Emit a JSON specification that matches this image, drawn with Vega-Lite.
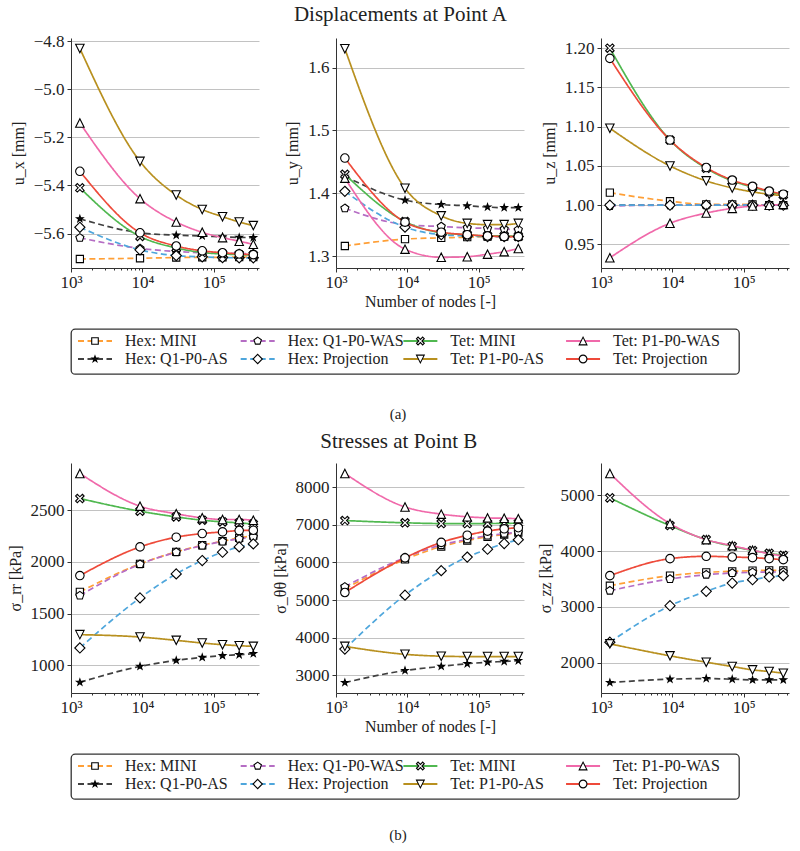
{
  "$schema": "https://vega.github.io/schema/vega-lite/v6.json",
  "background": "white",
  "padding": {"left": 7, "top": 4, "right": 5, "bottom": 5},
  "config": {
    "font": "'Liberation Serif', 'Times New Roman', 'DejaVu Serif', serif",
    "view": {"stroke": null},
    "axis": {"labelFont": "'Times New Roman', 'Liberation Serif', 'DejaVu Serif', serif", "titleFont": "'Liberation Serif', 'Times New Roman', 'DejaVu Serif', serif", "labelFontSize": 17, "titleFontSize": 16, "titleFontWeight": "normal", "labelColor": "#222", "titleColor": "#222", "domainColor": "#333", "tickColor": "#333", "gridColor": "#bbbbbb", "gridWidth": 0.9, "tickSize": 4},
    "title": {"font": "'Liberation Serif', 'Times New Roman', 'DejaVu Serif', serif", "fontWeight": "normal", "color": "#222"},
    "text": {"font": "'Liberation Serif', 'Times New Roman', 'DejaVu Serif', serif"}
  },
  "datasets": {
    "disp": [
      {"s":"Hex: MINI","n":1331,"ux":-5.706,"uy":1.316,"uz":1.016},
      {"s":"Hex: MINI","n":9261,"ux":-5.703,"uy":1.327,"uz":1.005},
      {"s":"Hex: MINI","n":29791,"ux":-5.700,"uy":1.329,"uz":1.001},
      {"s":"Hex: MINI","n":68921,"ux":-5.699,"uy":1.330,"uz":1.001},
      {"s":"Hex: MINI","n":132651,"ux":-5.699,"uy":1.331,"uz":1.001},
      {"s":"Hex: MINI","n":226981,"ux":-5.698,"uy":1.331,"uz":1.000},
      {"s":"Hex: MINI","n":357911,"ux":-5.698,"uy":1.331,"uz":1.000},
      {"s":"Hex: Q1-P0-AS","n":1331,"ux":-5.539,"uy":1.427,"uz":1.000},
      {"s":"Hex: Q1-P0-AS","n":9261,"ux":-5.597,"uy":1.389,"uz":1.000},
      {"s":"Hex: Q1-P0-AS","n":29791,"ux":-5.607,"uy":1.382,"uz":1.000},
      {"s":"Hex: Q1-P0-AS","n":68921,"ux":-5.610,"uy":1.380,"uz":1.000},
      {"s":"Hex: Q1-P0-AS","n":132651,"ux":-5.614,"uy":1.378,"uz":1.000},
      {"s":"Hex: Q1-P0-AS","n":226981,"ux":-5.616,"uy":1.377,"uz":1.000},
      {"s":"Hex: Q1-P0-AS","n":357911,"ux":-5.617,"uy":1.377,"uz":1.000},
      {"s":"Hex: Q1-P0-WAS","n":1331,"ux":-5.618,"uy":1.376,"uz":0.999},
      {"s":"Hex: Q1-P0-WAS","n":9261,"ux":-5.662,"uy":1.350,"uz":1.000},
      {"s":"Hex: Q1-P0-WAS","n":29791,"ux":-5.675,"uy":1.347,"uz":1.000},
      {"s":"Hex: Q1-P0-WAS","n":68921,"ux":-5.680,"uy":1.345,"uz":1.000},
      {"s":"Hex: Q1-P0-WAS","n":132651,"ux":-5.681,"uy":1.344,"uz":1.000},
      {"s":"Hex: Q1-P0-WAS","n":226981,"ux":-5.683,"uy":1.343,"uz":1.000},
      {"s":"Hex: Q1-P0-WAS","n":357911,"ux":-5.684,"uy":1.342,"uz":1.000},
      {"s":"Hex: Projection","n":1331,"ux":-5.574,"uy":1.403,"uz":1.000},
      {"s":"Hex: Projection","n":9261,"ux":-5.668,"uy":1.346,"uz":1.000},
      {"s":"Hex: Projection","n":29791,"ux":-5.692,"uy":1.334,"uz":1.000},
      {"s":"Hex: Projection","n":68921,"ux":-5.697,"uy":1.332,"uz":1.000},
      {"s":"Hex: Projection","n":132651,"ux":-5.700,"uy":1.331,"uz":1.000},
      {"s":"Hex: Projection","n":226981,"ux":-5.701,"uy":1.331,"uz":1.000},
      {"s":"Hex: Projection","n":357911,"ux":-5.701,"uy":1.331,"uz":1.000},
      {"s":"Tet: MINI","n":1331,"ux":-5.410,"uy":1.430,"uz":1.200},
      {"s":"Tet: MINI","n":9261,"ux":-5.612,"uy":1.355,"uz":1.083},
      {"s":"Tet: MINI","n":29791,"ux":-5.660,"uy":1.337,"uz":1.047},
      {"s":"Tet: MINI","n":68921,"ux":-5.679,"uy":1.334,"uz":1.031},
      {"s":"Tet: MINI","n":132651,"ux":-5.685,"uy":1.332,"uz":1.023},
      {"s":"Tet: MINI","n":226981,"ux":-5.688,"uy":1.332,"uz":1.017},
      {"s":"Tet: MINI","n":357911,"ux":-5.690,"uy":1.331,"uz":1.013},
      {"s":"Tet: P1-P0-AS","n":1331,"ux":-4.830,"uy":1.630,"uz":1.098},
      {"s":"Tet: P1-P0-AS","n":9261,"ux":-5.300,"uy":1.408,"uz":1.050},
      {"s":"Tet: P1-P0-AS","n":29791,"ux":-5.440,"uy":1.364,"uz":1.031},
      {"s":"Tet: P1-P0-AS","n":68921,"ux":-5.500,"uy":1.352,"uz":1.022},
      {"s":"Tet: P1-P0-AS","n":132651,"ux":-5.530,"uy":1.350,"uz":1.017},
      {"s":"Tet: P1-P0-AS","n":226981,"ux":-5.552,"uy":1.350,"uz":1.014},
      {"s":"Tet: P1-P0-AS","n":357911,"ux":-5.567,"uy":1.352,"uz":1.012},
      {"s":"Tet: P1-P0-WAS","n":1331,"ux":-5.140,"uy":1.424,"uz":0.933},
      {"s":"Tet: P1-P0-WAS","n":9261,"ux":-5.455,"uy":1.311,"uz":0.977},
      {"s":"Tet: P1-P0-WAS","n":29791,"ux":-5.552,"uy":1.298,"uz":0.990},
      {"s":"Tet: P1-P0-WAS","n":68921,"ux":-5.595,"uy":1.299,"uz":0.996},
      {"s":"Tet: P1-P0-WAS","n":132651,"ux":-5.617,"uy":1.303,"uz":0.999},
      {"s":"Tet: P1-P0-WAS","n":226981,"ux":-5.632,"uy":1.307,"uz":1.000},
      {"s":"Tet: P1-P0-WAS","n":357911,"ux":-5.645,"uy":1.312,"uz":1.001},
      {"s":"Tet: Projection","n":1331,"ux":-5.341,"uy":1.456,"uz":1.187},
      {"s":"Tet: Projection","n":9261,"ux":-5.597,"uy":1.354,"uz":1.083},
      {"s":"Tet: Projection","n":29791,"ux":-5.652,"uy":1.338,"uz":1.048},
      {"s":"Tet: Projection","n":68921,"ux":-5.672,"uy":1.334,"uz":1.032},
      {"s":"Tet: Projection","n":132651,"ux":-5.680,"uy":1.332,"uz":1.024},
      {"s":"Tet: Projection","n":226981,"ux":-5.685,"uy":1.331,"uz":1.018},
      {"s":"Tet: Projection","n":357911,"ux":-5.688,"uy":1.331,"uz":1.014}
    ],
    "stress": [
      {"s":"Hex: MINI","n":1331,"rr":1710,"tt":5300,"zz":3380},
      {"s":"Hex: MINI","n":9261,"rr":1981,"tt":6080,"zz":3560},
      {"s":"Hex: MINI","n":29791,"rr":2097,"tt":6420,"zz":3619},
      {"s":"Hex: MINI","n":68921,"rr":2161,"tt":6580,"zz":3637},
      {"s":"Hex: MINI","n":132651,"rr":2200,"tt":6680,"zz":3649},
      {"s":"Hex: MINI","n":226981,"rr":2232,"tt":6740,"zz":3655},
      {"s":"Hex: MINI","n":357911,"rr":2255,"tt":6790,"zz":3655},
      {"s":"Hex: Q1-P0-AS","n":1331,"rr":836,"tt":2810,"zz":1647},
      {"s":"Hex: Q1-P0-AS","n":9261,"rr":990,"tt":3130,"zz":1707},
      {"s":"Hex: Q1-P0-AS","n":29791,"rr":1048,"tt":3240,"zz":1719},
      {"s":"Hex: Q1-P0-AS","n":68921,"rr":1077,"tt":3310,"zz":1707},
      {"s":"Hex: Q1-P0-AS","n":132651,"rr":1094,"tt":3350,"zz":1695},
      {"s":"Hex: Q1-P0-AS","n":226981,"rr":1103,"tt":3370,"zz":1695},
      {"s":"Hex: Q1-P0-AS","n":357911,"rr":1113,"tt":3390,"zz":1695},
      {"s":"Hex: Q1-P0-WAS","n":1331,"rr":1674,"tt":5350,"zz":3290},
      {"s":"Hex: Q1-P0-WAS","n":9261,"rr":1978,"tt":6130,"zz":3500},
      {"s":"Hex: Q1-P0-WAS","n":29791,"rr":2094,"tt":6460,"zz":3577},
      {"s":"Hex: Q1-P0-WAS","n":68921,"rr":2158,"tt":6610,"zz":3607},
      {"s":"Hex: Q1-P0-WAS","n":132651,"rr":2197,"tt":6710,"zz":3619},
      {"s":"Hex: Q1-P0-WAS","n":226981,"rr":2223,"tt":6760,"zz":3625},
      {"s":"Hex: Q1-P0-WAS","n":357911,"rr":2242,"tt":6800,"zz":3625},
      {"s":"Hex: Projection","n":1331,"rr":1168,"tt":3700,"zz":2370},
      {"s":"Hex: Projection","n":9261,"rr":1652,"tt":5130,"zz":3022},
      {"s":"Hex: Projection","n":29791,"rr":1884,"tt":5780,"zz":3279},
      {"s":"Hex: Projection","n":68921,"rr":2013,"tt":6140,"zz":3428},
      {"s":"Hex: Projection","n":132651,"rr":2094,"tt":6350,"zz":3488},
      {"s":"Hex: Projection","n":226981,"rr":2145,"tt":6500,"zz":3536},
      {"s":"Hex: Projection","n":357911,"rr":2174,"tt":6600,"zz":3560},
      {"s":"Tet: MINI","n":1331,"rr":2613,"tt":7110,"zz":4952},
      {"s":"Tet: MINI","n":9261,"rr":2490,"tt":7050,"zz":4456},
      {"s":"Tet: MINI","n":29791,"rr":2435,"tt":7030,"zz":4205},
      {"s":"Tet: MINI","n":68921,"rr":2403,"tt":7030,"zz":4085},
      {"s":"Tet: MINI","n":132651,"rr":2387,"tt":7030,"zz":4010},
      {"s":"Tet: MINI","n":226981,"rr":2377,"tt":7035,"zz":3960},
      {"s":"Tet: MINI","n":357911,"rr":2366,"tt":7040,"zz":3925},
      {"s":"Tet: P1-P0-AS","n":1331,"rr":1297,"tt":3770,"zz":2340},
      {"s":"Tet: P1-P0-AS","n":9261,"rr":1274,"tt":3560,"zz":2125},
      {"s":"Tet: P1-P0-AS","n":29791,"rr":1242,"tt":3510,"zz":2011},
      {"s":"Tet: P1-P0-AS","n":68921,"rr":1216,"tt":3500,"zz":1934},
      {"s":"Tet: P1-P0-AS","n":132651,"rr":1200,"tt":3500,"zz":1874},
      {"s":"Tet: P1-P0-AS","n":226981,"rr":1190,"tt":3500,"zz":1844},
      {"s":"Tet: P1-P0-AS","n":357911,"rr":1184,"tt":3500,"zz":1814},
      {"s":"Tet: P1-P0-WAS","n":1331,"rr":2855,"tt":8360,"zz":5389},
      {"s":"Tet: P1-P0-WAS","n":9261,"rr":2539,"tt":7470,"zz":4492},
      {"s":"Tet: P1-P0-WAS","n":29791,"rr":2465,"tt":7280,"zz":4205},
      {"s":"Tet: P1-P0-WAS","n":68921,"rr":2426,"tt":7210,"zz":4097},
      {"s":"Tet: P1-P0-WAS","n":132651,"rr":2410,"tt":7180,"zz":4014},
      {"s":"Tet: P1-P0-WAS","n":226981,"rr":2410,"tt":7170,"zz":3954},
      {"s":"Tet: P1-P0-WAS","n":357911,"rr":2403,"tt":7160,"zz":3906},
      {"s":"Tet: Projection","n":1331,"rr":1868,"tt":5200,"zz":3560},
      {"s":"Tet: Projection","n":9261,"rr":2145,"tt":6120,"zz":3864},
      {"s":"Tet: Projection","n":29791,"rr":2239,"tt":6530,"zz":3906},
      {"s":"Tet: Projection","n":68921,"rr":2274,"tt":6720,"zz":3894},
      {"s":"Tet: Projection","n":132651,"rr":2290,"tt":6830,"zz":3882},
      {"s":"Tet: Projection","n":226981,"rr":2303,"tt":6890,"zz":3864},
      {"s":"Tet: Projection","n":357911,"rr":2306,"tt":6920,"zz":3846}
    ],
    "legend": [
      {"s":"Hex: MINI","col":0,"row":0},
      {"s":"Hex: Q1-P0-AS","col":0,"row":1},
      {"s":"Hex: Q1-P0-WAS","col":1,"row":0},
      {"s":"Hex: Projection","col":1,"row":1},
      {"s":"Tet: MINI","col":2,"row":0},
      {"s":"Tet: P1-P0-AS","col":2,"row":1},
      {"s":"Tet: P1-P0-WAS","col":3,"row":0},
      {"s":"Tet: Projection","col":3,"row":1}
    ]
  },
  "spacing": 8,
  "vconcat": [
    {
      "spacing": 19,
      "vconcat": [
        {
          "title": {"text": "Displacements at Point A", "fontSize": 21, "anchor": "middle", "frame": "bounds", "offset": 7},
          "bounds": "flush",
          "spacing": 77,
          "hconcat": [
            {
              "width": 188, "height": 230, "data": {"name": "disp"},
              "encoding": {
                "x": {"field": "n", "type": "quantitative", "scale": {"type": "log", "domain": [1000, 430000], "nice": false}, "axis": {"values": [1000,2000,3000,4000,5000,6000,7000,8000,9000,10000,20000,30000,40000,50000,60000,70000,80000,90000,100000,200000,300000,400000], "labelExpr": "datum.value==1000?'10³':datum.value==10000?'10⁴':datum.value==100000?'10⁵':''", "tickSize": {"condition": {"test": "datum.value==1000||datum.value==10000||datum.value==100000", "value": 4}, "value": 2}, "grid": false, "labelFlush": false, "labelOverlap": false, "title": null, "labelPadding": 2}},
                "y": {"field": "ux", "type": "quantitative", "scale": {"domain": [-5.7435, -4.7865], "zero": false, "nice": false}, "axis": {"values": [-5.6,-5.4,-5.2,-5.0,-4.8], "format": ".1f", "title": "u_x [mm]", "grid": true, "titlePadding": 7, "labelPadding": 3}}
              },
              "layer": [
                {"mark": {"type": "line", "interpolate": "monotone", "strokeWidth": 1.7},
                 "encoding": {
                   "color": {"field": "s", "type": "nominal", "scale": {"domain": ["Hex: MINI","Hex: Q1-P0-AS","Hex: Q1-P0-WAS","Hex: Projection","Tet: MINI","Tet: P1-P0-AS","Tet: P1-P0-WAS","Tet: Projection"], "range": ["#ff9f36","#404040","#b56dc4","#4ea6dc","#50b850","#b8901f","#f069aa","#ee4a3a"]}, "legend": null},
                   "strokeDash": {"field": "s", "type": "nominal", "scale": {"domain": ["Hex: MINI","Hex: Q1-P0-AS","Hex: Q1-P0-WAS","Hex: Projection","Tet: MINI","Tet: P1-P0-AS","Tet: P1-P0-WAS","Tet: Projection"], "range": [[6,3.5],[6,3.5],[6,3.5],[6,3.5],[1,0],[1,0],[1,0],[1,0]]}, "legend": null}
                 }},
                {"mark": {"type": "point", "filled": true, "stroke": "black", "strokeWidth": 1.1, "size": 72, "opacity": 1},
                 "encoding": {
                   "shape": {"field": "s", "type": "nominal", "scale": {"domain": ["Hex: MINI","Hex: Q1-P0-AS","Hex: Q1-P0-WAS","Hex: Projection","Tet: MINI","Tet: P1-P0-AS","Tet: P1-P0-WAS","Tet: Projection"], "range": ["M-0.85,-0.85L0.85,-0.85L0.85,0.85L-0.85,0.85Z","M0,-0.8L0.18,-0.25L0.76,-0.25L0.29,0.09L0.47,0.65L0,0.31L-0.47,0.65L-0.29,0.09L-0.76,-0.25L-0.18,-0.25Z","M0,-1L0.951,-0.309L0.588,0.809L-0.588,0.809L-0.951,-0.309Z","M0,-1.2L1.2,0L0,1.2L-1.2,0Z","M0.6,-1L1,-0.6L0.4,0L1,0.6L0.6,1L0,0.4L-0.6,1L-1,0.6L-0.4,0L-1,-0.6L-0.6,-1L0,-0.4Z","M-1,-1L1,-1L0,1Z","M0,-1L1,1L-1,1Z","circle"]}, "legend": null},
                   "fill": {"field": "s", "type": "nominal", "scale": {"domain": ["Hex: MINI","Hex: Q1-P0-AS","Hex: Q1-P0-WAS","Hex: Projection","Tet: MINI","Tet: P1-P0-AS","Tet: P1-P0-WAS","Tet: Projection"], "range": ["white","#111111","white","white","white","white","white","white"]}, "legend": null}
                 }}
              ]
            },
            {
              "width": 188, "height": 230, "data": {"name": "disp"},
              "encoding": {
                "x": {"field": "n", "type": "quantitative", "scale": {"type": "log", "domain": [1000, 430000], "nice": false}, "axis": {"values": [1000,2000,3000,4000,5000,6000,7000,8000,9000,10000,20000,30000,40000,50000,60000,70000,80000,90000,100000,200000,300000,400000], "labelExpr": "datum.value==1000?'10³':datum.value==10000?'10⁴':datum.value==100000?'10⁵':''", "tickSize": {"condition": {"test": "datum.value==1000||datum.value==10000||datum.value==100000", "value": 4}, "value": 2}, "grid": false, "labelFlush": false, "labelOverlap": false, "title": "Number of nodes [-]", "titlePadding": 3, "labelPadding": 2}},
                "y": {"field": "uy", "type": "quantitative", "scale": {"domain": [1.281, 1.647], "zero": false, "nice": false}, "axis": {"values": [1.3,1.4,1.5,1.6], "format": ".1f", "title": "u_y [mm]", "grid": true, "titlePadding": 7, "labelPadding": 3}}
              },
              "layer": [
                {"mark": {"type": "line", "interpolate": "monotone", "strokeWidth": 1.7},
                 "encoding": {
                   "color": {"field": "s", "type": "nominal", "scale": {"domain": ["Hex: MINI","Hex: Q1-P0-AS","Hex: Q1-P0-WAS","Hex: Projection","Tet: MINI","Tet: P1-P0-AS","Tet: P1-P0-WAS","Tet: Projection"], "range": ["#ff9f36","#404040","#b56dc4","#4ea6dc","#50b850","#b8901f","#f069aa","#ee4a3a"]}, "legend": null},
                   "strokeDash": {"field": "s", "type": "nominal", "scale": {"domain": ["Hex: MINI","Hex: Q1-P0-AS","Hex: Q1-P0-WAS","Hex: Projection","Tet: MINI","Tet: P1-P0-AS","Tet: P1-P0-WAS","Tet: Projection"], "range": [[6,3.5],[6,3.5],[6,3.5],[6,3.5],[1,0],[1,0],[1,0],[1,0]]}, "legend": null}
                 }},
                {"mark": {"type": "point", "filled": true, "stroke": "black", "strokeWidth": 1.1, "size": 72, "opacity": 1},
                 "encoding": {
                   "shape": {"field": "s", "type": "nominal", "scale": {"domain": ["Hex: MINI","Hex: Q1-P0-AS","Hex: Q1-P0-WAS","Hex: Projection","Tet: MINI","Tet: P1-P0-AS","Tet: P1-P0-WAS","Tet: Projection"], "range": ["M-0.85,-0.85L0.85,-0.85L0.85,0.85L-0.85,0.85Z","M0,-0.8L0.18,-0.25L0.76,-0.25L0.29,0.09L0.47,0.65L0,0.31L-0.47,0.65L-0.29,0.09L-0.76,-0.25L-0.18,-0.25Z","M0,-1L0.951,-0.309L0.588,0.809L-0.588,0.809L-0.951,-0.309Z","M0,-1.2L1.2,0L0,1.2L-1.2,0Z","M0.6,-1L1,-0.6L0.4,0L1,0.6L0.6,1L0,0.4L-0.6,1L-1,0.6L-0.4,0L-1,-0.6L-0.6,-1L0,-0.4Z","M-1,-1L1,-1L0,1Z","M0,-1L1,1L-1,1Z","circle"]}, "legend": null},
                   "fill": {"field": "s", "type": "nominal", "scale": {"domain": ["Hex: MINI","Hex: Q1-P0-AS","Hex: Q1-P0-WAS","Hex: Projection","Tet: MINI","Tet: P1-P0-AS","Tet: P1-P0-WAS","Tet: Projection"], "range": ["white","#111111","white","white","white","white","white","white"]}, "legend": null}
                 }}
              ]
            },
            {
              "width": 188, "height": 230, "data": {"name": "disp"},
              "encoding": {
                "x": {"field": "n", "type": "quantitative", "scale": {"type": "log", "domain": [1000, 430000], "nice": false}, "axis": {"values": [1000,2000,3000,4000,5000,6000,7000,8000,9000,10000,20000,30000,40000,50000,60000,70000,80000,90000,100000,200000,300000,400000], "labelExpr": "datum.value==1000?'10³':datum.value==10000?'10⁴':datum.value==100000?'10⁵':''", "tickSize": {"condition": {"test": "datum.value==1000||datum.value==10000||datum.value==100000", "value": 4}, "value": 2}, "grid": false, "labelFlush": false, "labelOverlap": false, "title": null, "labelPadding": 2}},
                "y": {"field": "uz", "type": "quantitative", "scale": {"domain": [0.92, 1.213], "zero": false, "nice": false}, "axis": {"values": [0.95,1.0,1.05,1.1,1.15,1.2], "format": ".2f", "title": "u_z [mm]", "grid": true, "titlePadding": 7, "labelPadding": 3}}
              },
              "layer": [
                {"mark": {"type": "line", "interpolate": "monotone", "strokeWidth": 1.7},
                 "encoding": {
                   "color": {"field": "s", "type": "nominal", "scale": {"domain": ["Hex: MINI","Hex: Q1-P0-AS","Hex: Q1-P0-WAS","Hex: Projection","Tet: MINI","Tet: P1-P0-AS","Tet: P1-P0-WAS","Tet: Projection"], "range": ["#ff9f36","#404040","#b56dc4","#4ea6dc","#50b850","#b8901f","#f069aa","#ee4a3a"]}, "legend": null},
                   "strokeDash": {"field": "s", "type": "nominal", "scale": {"domain": ["Hex: MINI","Hex: Q1-P0-AS","Hex: Q1-P0-WAS","Hex: Projection","Tet: MINI","Tet: P1-P0-AS","Tet: P1-P0-WAS","Tet: Projection"], "range": [[6,3.5],[6,3.5],[6,3.5],[6,3.5],[1,0],[1,0],[1,0],[1,0]]}, "legend": null}
                 }},
                {"mark": {"type": "point", "filled": true, "stroke": "black", "strokeWidth": 1.1, "size": 72, "opacity": 1},
                 "encoding": {
                   "shape": {"field": "s", "type": "nominal", "scale": {"domain": ["Hex: MINI","Hex: Q1-P0-AS","Hex: Q1-P0-WAS","Hex: Projection","Tet: MINI","Tet: P1-P0-AS","Tet: P1-P0-WAS","Tet: Projection"], "range": ["M-0.85,-0.85L0.85,-0.85L0.85,0.85L-0.85,0.85Z","M0,-0.8L0.18,-0.25L0.76,-0.25L0.29,0.09L0.47,0.65L0,0.31L-0.47,0.65L-0.29,0.09L-0.76,-0.25L-0.18,-0.25Z","M0,-1L0.951,-0.309L0.588,0.809L-0.588,0.809L-0.951,-0.309Z","M0,-1.2L1.2,0L0,1.2L-1.2,0Z","M0.6,-1L1,-0.6L0.4,0L1,0.6L0.6,1L0,0.4L-0.6,1L-1,0.6L-0.4,0L-1,-0.6L-0.6,-1L0,-0.4Z","M-1,-1L1,-1L0,1Z","M0,-1L1,1L-1,1Z","circle"]}, "legend": null},
                   "fill": {"field": "s", "type": "nominal", "scale": {"domain": ["Hex: MINI","Hex: Q1-P0-AS","Hex: Q1-P0-WAS","Hex: Projection","Tet: MINI","Tet: P1-P0-AS","Tet: P1-P0-WAS","Tet: Projection"], "range": ["white","#111111","white","white","white","white","white","white"]}, "legend": null}
                 }}
              ]
            }
          ]
        },
        {
          "width": 668, "height": 45, "data": {"name": "legend"},
          "view": {"stroke": "#333", "strokeWidth": 1.3, "cornerRadius": 4, "fill": "white"},
          "title": {"text": "(a)", "orient": "bottom", "fontSize": 15, "anchor": "middle", "offset": 33, "dx": -7},
          "encoding": {
            "x": {"field": "col", "type": "quantitative", "scale": {"domain": [-0.043, 4.063], "nice": false, "zero": false}, "axis": null},
            "y": {"field": "row", "type": "quantitative", "scale": {"domain": [-0.6667, 1.8333], "nice": false, "zero": false, "reverse": true}, "axis": null}
          },
          "layer": [
            {"mark": {"type": "rule", "strokeWidth": 2, "xOffset": 0, "x2Offset": 34},
             "encoding": {
               "x2": {"field": "col"},
               "color": {"field": "s", "type": "nominal", "scale": {"domain": ["Hex: MINI","Hex: Q1-P0-AS","Hex: Q1-P0-WAS","Hex: Projection","Tet: MINI","Tet: P1-P0-AS","Tet: P1-P0-WAS","Tet: Projection"], "range": ["#ff9f36","#404040","#b56dc4","#4ea6dc","#50b850","#b8901f","#f069aa","#ee4a3a"]}, "legend": null},
               "strokeDash": {"field": "s", "type": "nominal", "scale": {"domain": ["Hex: MINI","Hex: Q1-P0-AS","Hex: Q1-P0-WAS","Hex: Projection","Tet: MINI","Tet: P1-P0-AS","Tet: P1-P0-WAS","Tet: Projection"], "range": [[6,3.5],[6,3.5],[6,3.5],[6,3.5],[1,0],[1,0],[1,0],[1,0]]}, "legend": null}
             }},
            {"mark": {"type": "point", "filled": true, "stroke": "black", "strokeWidth": 1.1, "size": 60, "opacity": 1, "xOffset": 17},
             "encoding": {
               "shape": {"field": "s", "type": "nominal", "scale": {"domain": ["Hex: MINI","Hex: Q1-P0-AS","Hex: Q1-P0-WAS","Hex: Projection","Tet: MINI","Tet: P1-P0-AS","Tet: P1-P0-WAS","Tet: Projection"], "range": ["M-0.85,-0.85L0.85,-0.85L0.85,0.85L-0.85,0.85Z","M0,-0.8L0.18,-0.25L0.76,-0.25L0.29,0.09L0.47,0.65L0,0.31L-0.47,0.65L-0.29,0.09L-0.76,-0.25L-0.18,-0.25Z","M0,-1L0.951,-0.309L0.588,0.809L-0.588,0.809L-0.951,-0.309Z","M0,-1.2L1.2,0L0,1.2L-1.2,0Z","M0.6,-1L1,-0.6L0.4,0L1,0.6L0.6,1L0,0.4L-0.6,1L-1,0.6L-0.4,0L-1,-0.6L-0.6,-1L0,-0.4Z","M-1,-1L1,-1L0,1Z","M0,-1L1,1L-1,1Z","circle"]}, "legend": null},
               "fill": {"field": "s", "type": "nominal", "scale": {"domain": ["Hex: MINI","Hex: Q1-P0-AS","Hex: Q1-P0-WAS","Hex: Projection","Tet: MINI","Tet: P1-P0-AS","Tet: P1-P0-WAS","Tet: Projection"], "range": ["white","#111111","white","white","white","white","white","white"]}, "legend": null}
             }},
            {"mark": {"type": "text", "align": "left", "baseline": "middle", "xOffset": 47, "fontSize": 16, "color": "#222"},
             "encoding": {"text": {"field": "s"}}}
          ]
        }
      ]
    },
    {
      "spacing": 19,
      "vconcat": [
        {
          "title": {"text": "Stresses at Point B", "fontSize": 21, "anchor": "middle", "frame": "bounds", "offset": 11},
          "bounds": "flush",
          "spacing": 77,
          "hconcat": [
            {
              "width": 188, "height": 230, "data": {"name": "stress"},
              "encoding": {
                "x": {"field": "n", "type": "quantitative", "scale": {"type": "log", "domain": [1000, 430000], "nice": false}, "axis": {"values": [1000,2000,3000,4000,5000,6000,7000,8000,9000,10000,20000,30000,40000,50000,60000,70000,80000,90000,100000,200000,300000,400000], "labelExpr": "datum.value==1000?'10³':datum.value==10000?'10⁴':datum.value==100000?'10⁵':''", "tickSize": {"condition": {"test": "datum.value==1000||datum.value==10000||datum.value==100000", "value": 4}, "value": 2}, "grid": false, "labelFlush": false, "labelOverlap": false, "title": null, "labelPadding": 2}},
                "y": {"field": "rr", "type": "quantitative", "scale": {"domain": [733, 2956], "zero": false, "nice": false}, "axis": {"values": [1000,1500,2000,2500], "format": "d", "title": "σ_rr [kPa]", "grid": true, "titlePadding": 7, "labelPadding": 3}}
              },
              "layer": [
                {"mark": {"type": "line", "interpolate": "monotone", "strokeWidth": 1.7},
                 "encoding": {
                   "color": {"field": "s", "type": "nominal", "scale": {"domain": ["Hex: MINI","Hex: Q1-P0-AS","Hex: Q1-P0-WAS","Hex: Projection","Tet: MINI","Tet: P1-P0-AS","Tet: P1-P0-WAS","Tet: Projection"], "range": ["#ff9f36","#404040","#b56dc4","#4ea6dc","#50b850","#b8901f","#f069aa","#ee4a3a"]}, "legend": null},
                   "strokeDash": {"field": "s", "type": "nominal", "scale": {"domain": ["Hex: MINI","Hex: Q1-P0-AS","Hex: Q1-P0-WAS","Hex: Projection","Tet: MINI","Tet: P1-P0-AS","Tet: P1-P0-WAS","Tet: Projection"], "range": [[6,3.5],[6,3.5],[6,3.5],[6,3.5],[1,0],[1,0],[1,0],[1,0]]}, "legend": null}
                 }},
                {"mark": {"type": "point", "filled": true, "stroke": "black", "strokeWidth": 1.1, "size": 72, "opacity": 1},
                 "encoding": {
                   "shape": {"field": "s", "type": "nominal", "scale": {"domain": ["Hex: MINI","Hex: Q1-P0-AS","Hex: Q1-P0-WAS","Hex: Projection","Tet: MINI","Tet: P1-P0-AS","Tet: P1-P0-WAS","Tet: Projection"], "range": ["M-0.85,-0.85L0.85,-0.85L0.85,0.85L-0.85,0.85Z","M0,-0.8L0.18,-0.25L0.76,-0.25L0.29,0.09L0.47,0.65L0,0.31L-0.47,0.65L-0.29,0.09L-0.76,-0.25L-0.18,-0.25Z","M0,-1L0.951,-0.309L0.588,0.809L-0.588,0.809L-0.951,-0.309Z","M0,-1.2L1.2,0L0,1.2L-1.2,0Z","M0.6,-1L1,-0.6L0.4,0L1,0.6L0.6,1L0,0.4L-0.6,1L-1,0.6L-0.4,0L-1,-0.6L-0.6,-1L0,-0.4Z","M-1,-1L1,-1L0,1Z","M0,-1L1,1L-1,1Z","circle"]}, "legend": null},
                   "fill": {"field": "s", "type": "nominal", "scale": {"domain": ["Hex: MINI","Hex: Q1-P0-AS","Hex: Q1-P0-WAS","Hex: Projection","Tet: MINI","Tet: P1-P0-AS","Tet: P1-P0-WAS","Tet: Projection"], "range": ["white","#111111","white","white","white","white","white","white"]}, "legend": null}
                 }}
              ]
            },
            {
              "width": 188, "height": 230, "data": {"name": "stress"},
              "encoding": {
                "x": {"field": "n", "type": "quantitative", "scale": {"type": "log", "domain": [1000, 430000], "nice": false}, "axis": {"values": [1000,2000,3000,4000,5000,6000,7000,8000,9000,10000,20000,30000,40000,50000,60000,70000,80000,90000,100000,200000,300000,400000], "labelExpr": "datum.value==1000?'10³':datum.value==10000?'10⁴':datum.value==100000?'10⁵':''", "tickSize": {"condition": {"test": "datum.value==1000||datum.value==10000||datum.value==100000", "value": 4}, "value": 2}, "grid": false, "labelFlush": false, "labelOverlap": false, "title": "Number of nodes [-]", "titlePadding": 3, "labelPadding": 2}},
                "y": {"field": "tt", "type": "quantitative", "scale": {"domain": [2533, 8637], "zero": false, "nice": false}, "axis": {"values": [3000,4000,5000,6000,7000,8000], "format": "d", "title": "σ_θθ [kPa]", "grid": true, "titlePadding": 7, "labelPadding": 3}}
              },
              "layer": [
                {"mark": {"type": "line", "interpolate": "monotone", "strokeWidth": 1.7},
                 "encoding": {
                   "color": {"field": "s", "type": "nominal", "scale": {"domain": ["Hex: MINI","Hex: Q1-P0-AS","Hex: Q1-P0-WAS","Hex: Projection","Tet: MINI","Tet: P1-P0-AS","Tet: P1-P0-WAS","Tet: Projection"], "range": ["#ff9f36","#404040","#b56dc4","#4ea6dc","#50b850","#b8901f","#f069aa","#ee4a3a"]}, "legend": null},
                   "strokeDash": {"field": "s", "type": "nominal", "scale": {"domain": ["Hex: MINI","Hex: Q1-P0-AS","Hex: Q1-P0-WAS","Hex: Projection","Tet: MINI","Tet: P1-P0-AS","Tet: P1-P0-WAS","Tet: Projection"], "range": [[6,3.5],[6,3.5],[6,3.5],[6,3.5],[1,0],[1,0],[1,0],[1,0]]}, "legend": null}
                 }},
                {"mark": {"type": "point", "filled": true, "stroke": "black", "strokeWidth": 1.1, "size": 72, "opacity": 1},
                 "encoding": {
                   "shape": {"field": "s", "type": "nominal", "scale": {"domain": ["Hex: MINI","Hex: Q1-P0-AS","Hex: Q1-P0-WAS","Hex: Projection","Tet: MINI","Tet: P1-P0-AS","Tet: P1-P0-WAS","Tet: Projection"], "range": ["M-0.85,-0.85L0.85,-0.85L0.85,0.85L-0.85,0.85Z","M0,-0.8L0.18,-0.25L0.76,-0.25L0.29,0.09L0.47,0.65L0,0.31L-0.47,0.65L-0.29,0.09L-0.76,-0.25L-0.18,-0.25Z","M0,-1L0.951,-0.309L0.588,0.809L-0.588,0.809L-0.951,-0.309Z","M0,-1.2L1.2,0L0,1.2L-1.2,0Z","M0.6,-1L1,-0.6L0.4,0L1,0.6L0.6,1L0,0.4L-0.6,1L-1,0.6L-0.4,0L-1,-0.6L-0.6,-1L0,-0.4Z","M-1,-1L1,-1L0,1Z","M0,-1L1,1L-1,1Z","circle"]}, "legend": null},
                   "fill": {"field": "s", "type": "nominal", "scale": {"domain": ["Hex: MINI","Hex: Q1-P0-AS","Hex: Q1-P0-WAS","Hex: Projection","Tet: MINI","Tet: P1-P0-AS","Tet: P1-P0-WAS","Tet: Projection"], "range": ["white","#111111","white","white","white","white","white","white"]}, "legend": null}
                 }}
              ]
            },
            {
              "width": 188, "height": 230, "data": {"name": "stress"},
              "encoding": {
                "x": {"field": "n", "type": "quantitative", "scale": {"type": "log", "domain": [1000, 430000], "nice": false}, "axis": {"values": [1000,2000,3000,4000,5000,6000,7000,8000,9000,10000,20000,30000,40000,50000,60000,70000,80000,90000,100000,200000,300000,400000], "labelExpr": "datum.value==1000?'10³':datum.value==10000?'10⁴':datum.value==100000?'10⁵':''", "tickSize": {"condition": {"test": "datum.value==1000||datum.value==10000||datum.value==100000", "value": 4}, "value": 2}, "grid": false, "labelFlush": false, "labelOverlap": false, "title": null, "labelPadding": 2}},
                "y": {"field": "zz", "type": "quantitative", "scale": {"domain": [1460, 5576], "zero": false, "nice": false}, "axis": {"values": [2000,3000,4000,5000], "format": "d", "title": "σ_zz [kPa]", "grid": true, "titlePadding": 7, "labelPadding": 3}}
              },
              "layer": [
                {"mark": {"type": "line", "interpolate": "monotone", "strokeWidth": 1.7},
                 "encoding": {
                   "color": {"field": "s", "type": "nominal", "scale": {"domain": ["Hex: MINI","Hex: Q1-P0-AS","Hex: Q1-P0-WAS","Hex: Projection","Tet: MINI","Tet: P1-P0-AS","Tet: P1-P0-WAS","Tet: Projection"], "range": ["#ff9f36","#404040","#b56dc4","#4ea6dc","#50b850","#b8901f","#f069aa","#ee4a3a"]}, "legend": null},
                   "strokeDash": {"field": "s", "type": "nominal", "scale": {"domain": ["Hex: MINI","Hex: Q1-P0-AS","Hex: Q1-P0-WAS","Hex: Projection","Tet: MINI","Tet: P1-P0-AS","Tet: P1-P0-WAS","Tet: Projection"], "range": [[6,3.5],[6,3.5],[6,3.5],[6,3.5],[1,0],[1,0],[1,0],[1,0]]}, "legend": null}
                 }},
                {"mark": {"type": "point", "filled": true, "stroke": "black", "strokeWidth": 1.1, "size": 72, "opacity": 1},
                 "encoding": {
                   "shape": {"field": "s", "type": "nominal", "scale": {"domain": ["Hex: MINI","Hex: Q1-P0-AS","Hex: Q1-P0-WAS","Hex: Projection","Tet: MINI","Tet: P1-P0-AS","Tet: P1-P0-WAS","Tet: Projection"], "range": ["M-0.85,-0.85L0.85,-0.85L0.85,0.85L-0.85,0.85Z","M0,-0.8L0.18,-0.25L0.76,-0.25L0.29,0.09L0.47,0.65L0,0.31L-0.47,0.65L-0.29,0.09L-0.76,-0.25L-0.18,-0.25Z","M0,-1L0.951,-0.309L0.588,0.809L-0.588,0.809L-0.951,-0.309Z","M0,-1.2L1.2,0L0,1.2L-1.2,0Z","M0.6,-1L1,-0.6L0.4,0L1,0.6L0.6,1L0,0.4L-0.6,1L-1,0.6L-0.4,0L-1,-0.6L-0.6,-1L0,-0.4Z","M-1,-1L1,-1L0,1Z","M0,-1L1,1L-1,1Z","circle"]}, "legend": null},
                   "fill": {"field": "s", "type": "nominal", "scale": {"domain": ["Hex: MINI","Hex: Q1-P0-AS","Hex: Q1-P0-WAS","Hex: Projection","Tet: MINI","Tet: P1-P0-AS","Tet: P1-P0-WAS","Tet: Projection"], "range": ["white","#111111","white","white","white","white","white","white"]}, "legend": null}
                 }}
              ]
            }
          ]
        },
        {
          "width": 668, "height": 45, "data": {"name": "legend"},
          "view": {"stroke": "#333", "strokeWidth": 1.3, "cornerRadius": 4, "fill": "white"},
          "title": {"text": "(b)", "orient": "bottom", "fontSize": 15, "anchor": "middle", "offset": 29, "dx": -7},
          "encoding": {
            "x": {"field": "col", "type": "quantitative", "scale": {"domain": [-0.043, 4.063], "nice": false, "zero": false}, "axis": null},
            "y": {"field": "row", "type": "quantitative", "scale": {"domain": [-0.6667, 1.8333], "nice": false, "zero": false, "reverse": true}, "axis": null}
          },
          "layer": [
            {"mark": {"type": "rule", "strokeWidth": 2, "xOffset": 0, "x2Offset": 34},
             "encoding": {
               "x2": {"field": "col"},
               "color": {"field": "s", "type": "nominal", "scale": {"domain": ["Hex: MINI","Hex: Q1-P0-AS","Hex: Q1-P0-WAS","Hex: Projection","Tet: MINI","Tet: P1-P0-AS","Tet: P1-P0-WAS","Tet: Projection"], "range": ["#ff9f36","#404040","#b56dc4","#4ea6dc","#50b850","#b8901f","#f069aa","#ee4a3a"]}, "legend": null},
               "strokeDash": {"field": "s", "type": "nominal", "scale": {"domain": ["Hex: MINI","Hex: Q1-P0-AS","Hex: Q1-P0-WAS","Hex: Projection","Tet: MINI","Tet: P1-P0-AS","Tet: P1-P0-WAS","Tet: Projection"], "range": [[6,3.5],[6,3.5],[6,3.5],[6,3.5],[1,0],[1,0],[1,0],[1,0]]}, "legend": null}
             }},
            {"mark": {"type": "point", "filled": true, "stroke": "black", "strokeWidth": 1.1, "size": 60, "opacity": 1, "xOffset": 17},
             "encoding": {
               "shape": {"field": "s", "type": "nominal", "scale": {"domain": ["Hex: MINI","Hex: Q1-P0-AS","Hex: Q1-P0-WAS","Hex: Projection","Tet: MINI","Tet: P1-P0-AS","Tet: P1-P0-WAS","Tet: Projection"], "range": ["M-0.85,-0.85L0.85,-0.85L0.85,0.85L-0.85,0.85Z","M0,-0.8L0.18,-0.25L0.76,-0.25L0.29,0.09L0.47,0.65L0,0.31L-0.47,0.65L-0.29,0.09L-0.76,-0.25L-0.18,-0.25Z","M0,-1L0.951,-0.309L0.588,0.809L-0.588,0.809L-0.951,-0.309Z","M0,-1.2L1.2,0L0,1.2L-1.2,0Z","M0.6,-1L1,-0.6L0.4,0L1,0.6L0.6,1L0,0.4L-0.6,1L-1,0.6L-0.4,0L-1,-0.6L-0.6,-1L0,-0.4Z","M-1,-1L1,-1L0,1Z","M0,-1L1,1L-1,1Z","circle"]}, "legend": null},
               "fill": {"field": "s", "type": "nominal", "scale": {"domain": ["Hex: MINI","Hex: Q1-P0-AS","Hex: Q1-P0-WAS","Hex: Projection","Tet: MINI","Tet: P1-P0-AS","Tet: P1-P0-WAS","Tet: Projection"], "range": ["white","#111111","white","white","white","white","white","white"]}, "legend": null}
             }},
            {"mark": {"type": "text", "align": "left", "baseline": "middle", "xOffset": 47, "fontSize": 16, "color": "#222"},
             "encoding": {"text": {"field": "s"}}}
          ]
        }
      ]
    }
  ]
}
